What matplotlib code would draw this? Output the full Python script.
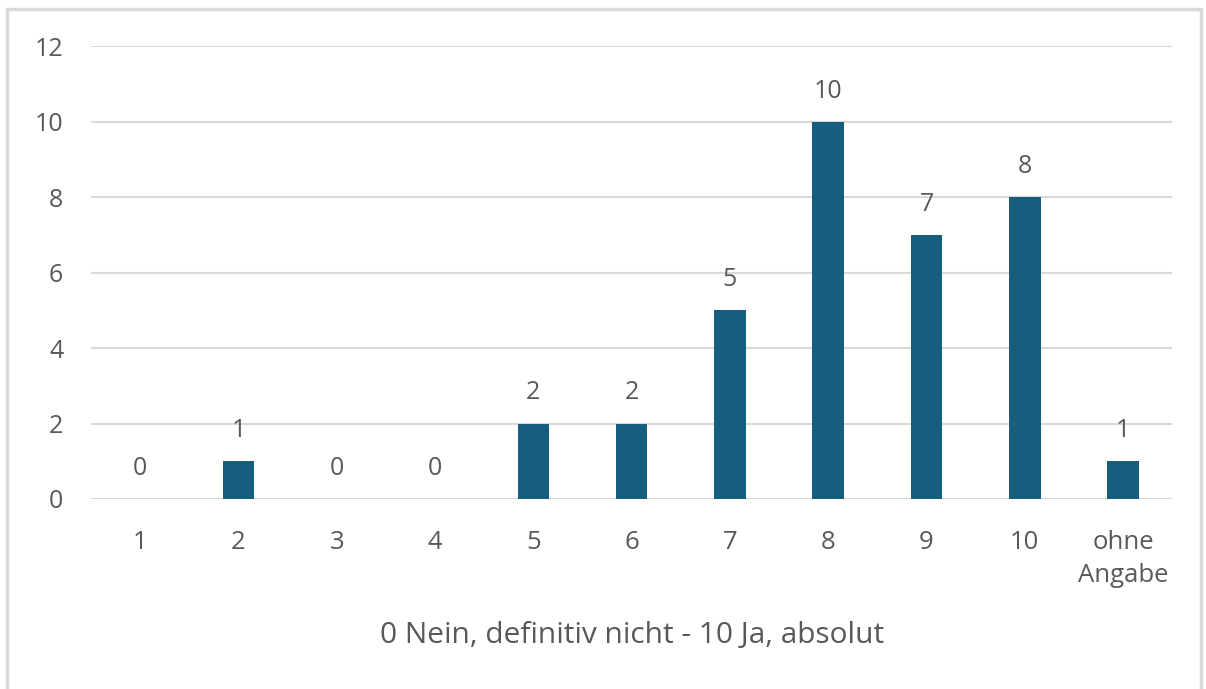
import matplotlib.pyplot as plt
from matplotlib.patches import Rectangle

# Antworten je Skalenwert
categories = ['1', '2', '3', '4', '5', '6', '7', '8', '9', '10', 'ohne\nAngabe']
counts = [0, 1, 0, 0, 2, 2, 5, 10, 7, 8, 1]
yticks = [0, 2, 4, 6, 8, 10, 12]

bar_color = '#155E7E'
text_color = '#595959'
grid_color = '#D9D9D9'

plt.rcParams['font.family'] = ['Open Sans', 'DejaVu Sans']

fig = plt.figure(figsize=(12.06, 6.89), dpi=100)
ax = fig.add_axes([0.0755, 0.2758, 0.8965, 0.6572])

x = list(range(len(categories)))
ax.bar(x, counts, width=0.32, color=bar_color, zorder=3)

for xi, c in zip(x, counts):
    ax.annotate(str(c), (xi, c), xytext=(0, 22), textcoords='offset points',
                ha='center', va='center', fontsize=18, color=text_color)

ax.set_xlim(-0.5, len(categories) - 0.5)
ax.set_ylim(0, 12)
ax.set_yticks(yticks)
ax.set_yticklabels([str(t) for t in yticks], fontsize=18, color=text_color)
ax.set_xticks(x)
ax.set_xticklabels(categories, fontsize=18.5, color=text_color, linespacing=1.45)
ax.tick_params(axis='y', length=0, pad=20)
ax.tick_params(axis='x', length=0, pad=22)
ax.grid(axis='y', color=grid_color, linewidth=1.5, zorder=0)
for s in ax.spines.values():
    s.set_visible(False)

ax.set_xlabel('0 Nein, definitiv nicht - 10 Ja, absolut', fontsize=21.5,
              color=text_color, labelpad=24)

# Rahmen um das Diagramm
fig.patches.append(Rectangle((0.006, -0.01), 0.99, 0.997, transform=fig.transFigure,
                             fill=False, edgecolor=grid_color, linewidth=2.5))

fig.savefig('out.png', dpi=100)
